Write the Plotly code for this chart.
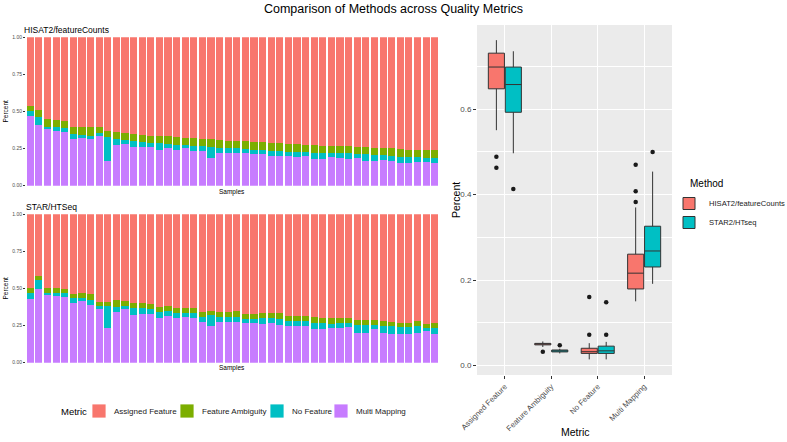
import plotly.graph_objects as go

W, H = 787, 442

samples = [f"S{i+1}" for i in range(48)]
metrics = ["Assigned Feature", "Feature Ambiguity", "No Feature", "Multi Mapping"]
colors = {"Assigned Feature": "#F8766D", "Feature Ambiguity": "#7CAE00",
          "No Feature": "#00BFC4", "Multi Mapping": "#C77CFF"}

# HISAT2/featureCounts per-sample fractions
hisat_multi = [.470, .408, .383, .370, .362, .318, .324, .313, .338, .166, .272, .283,
               .259, .259, .262, .240, .256, .242, .252, .236, .232, .190, .222, .222,
               .218, .219, .212, .214, .200, .202, .201, .196, .197, .180, .178, .192,
               .190, .178, .184, .165, .164, .170, .164, .150, .150, .163, .158, .155]
hisat_nofeat = [.035, .052, .015, .025, .028, .030, .018, .025, .014, .160, .040, .025,
                .040, .037, .028, .045, .025, .035, .020, .032, .033, .072, .033, .034,
                .034, .028, .031, .028, .032, .030, .025, .030, .027, .042, .044, .029,
                .028, .040, .029, .047, .043, .037, .036, .046, .045, .028, .032, .033]
hisat_amb = [.032, .051, .051, .045, .043, .049, .052, .056, .046, .044, .050, .046,
             .051, .046, .046, .051, .052, .050, .051, .052, .053, .053, .050, .046,
             .048, .051, .053, .050, .056, .055, .056, .052, .050, .050, .048, .048,
             .050, .049, .050, .046, .050, .049, .054, .050, .047, .050, .050, .050]
hisat_assigned = [.463, .489, .551, .560, .567, .603, .606, .606, .602, .630, .638, .646,
                  .650, .658, .664, .664, .667, .673, .677, .680, .682, .685, .695, .698,
                  .700, .702, .704, .708, .712, .713, .718, .722, .726, .728, .730, .731,
                  .732, .733, .737, .742, .743, .744, .746, .754, .758, .759, .760, .762]

# STAR/HTSeq per-sample fractions
star_multi = [.427, .500, .454, .450, .441, .400, .417, .387, .360, .232, .344, .364,
              .321, .325, .327, .300, .315, .300, .310, .300, .272, .247, .275, .276,
              .276, .266, .266, .261, .270, .257, .247, .247, .247, .225, .225, .232,
              .232, .239, .202, .202, .229, .198, .193, .193, .191, .198, .211, .193]
star_nofeat = [.045, .055, .014, .018, .027, .036, .020, .035, .022, .148, .033, .018,
               .048, .041, .033, .044, .033, .033, .023, .033, .034, .072, .031, .034,
               .034, .026, .026, .038, .034, .040, .032, .032, .032, .045, .042, .029,
               .034, .027, .052, .052, .027, .049, .054, .046, .048, .049, .025, .043]
star_amb = [.031, .032, .033, .034, .032, .030, .031, .038, .030, .030, .047, .036,
            .035, .034, .035, .033, .034, .036, .036, .036, .038, .031, .035, .033,
            .039, .037, .037, .034, .032, .037, .036, .037, .036, .038, .037, .037,
            .036, .034, .032, .033, .031, .032, .030, .029, .029, .035, .028, .030]
star_assigned = [.497, .413, .499, .498, .500, .534, .532, .540, .588, .590, .576, .582,
                 .596, .600, .605, .623, .618, .631, .631, .631, .656, .650, .659, .657,
                 .651, .671, .671, .667, .664, .666, .685, .684, .685, .692, .696, .702,
                 .698, .700, .714, .713, .713, .721, .723, .732, .732, .718, .736, .734]

methods = ["HISAT2/featureCounts", "STAR2/HTseq"]
method_colors = ["#F8766D", "#00BFC4"]

FONT = "Liberation Sans, Arial, sans-serif"


def px_x(p):
    return p / W


def px_y(p):
    return 1 - p / H


fig = go.Figure()

panels = [
    ("x", "y", {"Assigned Feature": hisat_assigned, "Feature Ambiguity": hisat_amb,
                "No Feature": hisat_nofeat, "Multi Mapping": hisat_multi}),
    ("x2", "y2", {"Assigned Feature": star_assigned, "Feature Ambiguity": star_amb,
                  "No Feature": star_nofeat, "Multi Mapping": star_multi}),
]
stack_order = ["Multi Mapping", "No Feature", "Feature Ambiguity", "Assigned Feature"]
for xa, ya, data in panels:
    for m in stack_order:
        fig.add_trace(go.Bar(
            x=samples, y=data[m], name=m, xaxis=xa, yaxis=ya,
            marker=dict(color=colors[m], line=dict(width=0)),
            showlegend=False,
        ))

# box plot data
box_sets = [
    [hisat_assigned, hisat_amb, hisat_nofeat, hisat_multi],
    [star_assigned, star_amb, star_nofeat, star_multi],
]
for name, col, sets in zip(methods, method_colors, box_sets):
    xs, ys = [], []
    for m, vals in zip(metrics, sets):
        xs += [m] * len(vals)
        ys += vals
    fig.add_trace(go.Box(
        x=xs, y=ys, name=name, xaxis="x3", yaxis="y3",
        fillcolor=col, line=dict(color="#333333", width=1),
        marker=dict(color="#1a1a1a", size=4.5, outliercolor="#1a1a1a"),
        boxpoints="outliers", jitter=0, pointpos=0, whiskerwidth=0,
        legend="legend2",
    ))

tickfont_small = dict(family=FONT, size=5, color="#4D4D4D")

fig.update_layout(
    width=W, height=H,
    margin=dict(l=0, r=0, t=0, b=0, autoexpand=False),
    paper_bgcolor="white", plot_bgcolor="white",
    barmode="stack", bargap=0.17,
    boxmode="group", boxgap=0.27, boxgroupgap=0.05,
    font=dict(family=FONT, color="black"),
    title=dict(text="Comparison of Methods across Quality Metrics",
               x=0.5, xanchor="center", y=px_y(9), yanchor="middle",
               font=dict(size=12.5, family=FONT, color="black")),
    xaxis=dict(domain=[px_x(26), px_x(439)], showticklabels=False, ticks="",
               showgrid=False, zeroline=False, range=[-0.5, 47.5], anchor="y",
               automargin=False),
    yaxis=dict(domain=[px_y(185.7), px_y(37.3)], range=[0, 1], showgrid=False,
               zeroline=False, tickvals=[0, .25, .5, .75, 1],
               ticktext=["0.00", "0.25", "0.50", "0.75", "1.00"],
               ticks="outside", ticklen=2, tickcolor="#333333", tickwidth=0.6,
               tickfont=tickfont_small, anchor="x", automargin=False),
    xaxis2=dict(domain=[px_x(26), px_x(439)], showticklabels=False, ticks="",
                showgrid=False, zeroline=False, range=[-0.5, 47.5], anchor="y2",
                automargin=False),
    yaxis2=dict(domain=[px_y(362.7), px_y(214.3)], range=[0, 1], showgrid=False,
                zeroline=False, tickvals=[0, .25, .5, .75, 1],
                ticktext=["0.00", "0.25", "0.50", "0.75", "1.00"],
                ticks="outside", ticklen=2, tickcolor="#333333", tickwidth=0.6,
                tickfont=tickfont_small, anchor="x2", automargin=False),
    xaxis3=dict(domain=[px_x(477), px_x(672)], anchor="y3", range=[-0.6, 3.6],
                categoryorder="array", categoryarray=metrics,
                showgrid=True, gridcolor="white", gridwidth=1.1, zeroline=False,
                ticks="outside", ticklen=3, tickcolor="#333333", tickwidth=0.7,
                tickangle=-45, tickfont=dict(family=FONT, size=7.8, color="#4D4D4D"),
                automargin=False),
    yaxis3=dict(domain=[px_y(375), px_y(25)], anchor="x3", range=[-0.0226, 0.7975],
                tickvals=[0, .2, .4, .6], ticktext=["0.0", "0.2", "0.4", "0.6"],
                showgrid=True, gridcolor="white", gridwidth=1.1, zeroline=False,
                minor=dict(tickvals=[.1, .3, .5, .7], showgrid=True, gridcolor="white",
                           gridwidth=0.5, ticks=""),
                ticks="outside", ticklen=3, tickcolor="#333333", tickwidth=0.7,
                tickfont=dict(family=FONT, size=8, color="#4D4D4D"), automargin=False),
    legend2=dict(x=px_x(669), y=px_y(189), xanchor="left", yanchor="top",
                 font=dict(family=FONT, size=7.6, color="#1a1a1a"),
                 bgcolor="rgba(0,0,0,0)", tracegroupgap=0, itemwidth=30),
    shapes=[dict(type="rect", xref="x3 domain", yref="y3 domain", x0=0, x1=1, y0=0, y1=1,
                 fillcolor="#EBEBEB", line=dict(width=0), layer="below")],
)

# bottom "Metric" legend (custom: compact ggplot-style keys)
legend_x = [92, 180, 270, 334]
for m, lx in zip(metrics, legend_x):
    fig.add_shape(type="rect", xref="paper", yref="paper",
                  x0=px_x(lx), x1=px_x(lx + 14), y0=px_y(418), y1=px_y(404),
                  fillcolor=colors[m], line=dict(color="white", width=0.8))
    fig.add_annotation(xref="paper", yref="paper", x=px_x(lx + 20), y=px_y(411), text=m,
                       showarrow=False, xanchor="left", yanchor="middle",
                       font=dict(family=FONT, size=8, color="#1a1a1a"))
fig.add_annotation(xref="paper", yref="paper", x=px_x(59), y=px_y(411), text="Metric",
                   showarrow=False, xanchor="left", yanchor="middle",
                   font=dict(family=FONT, size=9.5, color="black"))

texts = [
    dict(text="HISAT2/featureCounts", x=22, y=30, size=8.5, anchor="left", angle=0),
    dict(text="STAR/HTSeq", x=24, y=206.5, size=8.5, anchor="left", angle=0),
    dict(text="Percent", x=5, y=111.5, size=6.5, anchor="center", angle=-90),
    dict(text="Percent", x=5, y=288.5, size=6.5, anchor="center", angle=-90),
    dict(text="Samples", x=232, y=192, size=6.5, anchor="center", angle=0),
    dict(text="Samples", x=232, y=368, size=6.5, anchor="center", angle=0),
    dict(text="Percent", x=456, y=200, size=10.5, anchor="center", angle=-90),
    dict(text="Metric", x=575, y=432, size=10.5, anchor="center", angle=0),
    dict(text="Method", x=688, y=183, size=10, anchor="left", angle=0),
]
for t in texts:
    fig.add_annotation(xref="paper", yref="paper", x=px_x(t["x"]), y=px_y(t["y"]),
                       text=t["text"], showarrow=False, textangle=t["angle"],
                       xanchor=t["anchor"], yanchor="middle",
                       font=dict(family=FONT, size=t["size"], color="black"))

fig.write_html("out.html", config={"displayModeBar": False},
               post_script="document.body.style.margin='0';document.body.style.overflow='hidden';")
